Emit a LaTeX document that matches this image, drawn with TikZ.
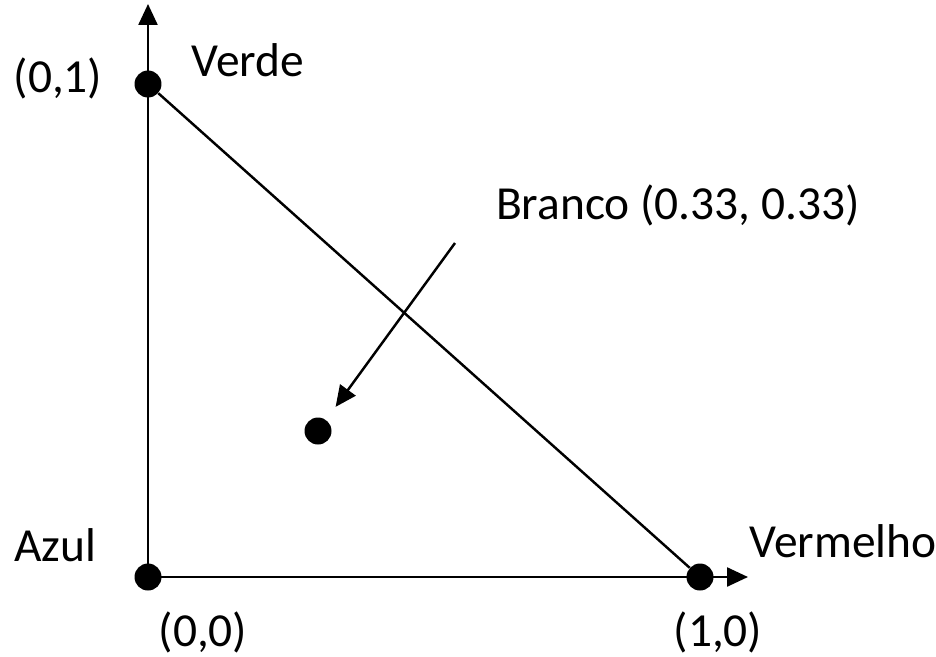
\documentclass[tikz,border=0pt]{standalone}
\usepackage{fontspec}
\setmainfont{Carlito}
\usetikzlibrary{arrows.meta, positioning}

\begin{document}
\begin{tikzpicture}[x=0.02cm, y=-0.02cm,
      dot/.style={circle, fill=black, inner sep=0pt, minimum size=0.54cm},
      lbl/.style={font=\fontsize{27}{31}\selectfont, inner sep=0pt},
      edge/.style={line width=1.4pt},
      arr/.style={edge, -{Triangle[length=0.42cm, width=0.38cm]}}]
      \useasboundingbox (0,0) rectangle (936,656);
      \node[dot] (azul) at (148,577) {};
      \node[dot] (verde) at (148,84) {};
      \node[dot] (verm) at (700,577) {};
      \node[dot] (branco) at (318,431) {};
      \coordinate (ytip) at (148,4);
      \coordinate (xtip) at (748,577);
      \coordinate (ptr) at (455,243);
      \draw[arr] (azul.center) -- (ytip);
      \draw[arr] (azul.center) -- (xtip);
      \draw[edge] (verde) -- (verm);
      \draw[arr, shorten >=0.32cm] (ptr) -- (branco);
      \node[lbl] (tverde) at (248,60) {Verde};
      \node[lbl] (t01) at (58,78) {(0,1)};
      \node[lbl] (tbranco) at (678,205) {Branco (0.33, 0.33)};
      \node[lbl] (tverm) at (843,541) {Vermelho};
      \node[lbl] (tazul) at (55,545) {Azul};
      \node[lbl] (t00) at (203,632) {(0,0)};
      \node[lbl] (t10) at (718,632) {(1,0)};
    \end{tikzpicture}
\end{document}
